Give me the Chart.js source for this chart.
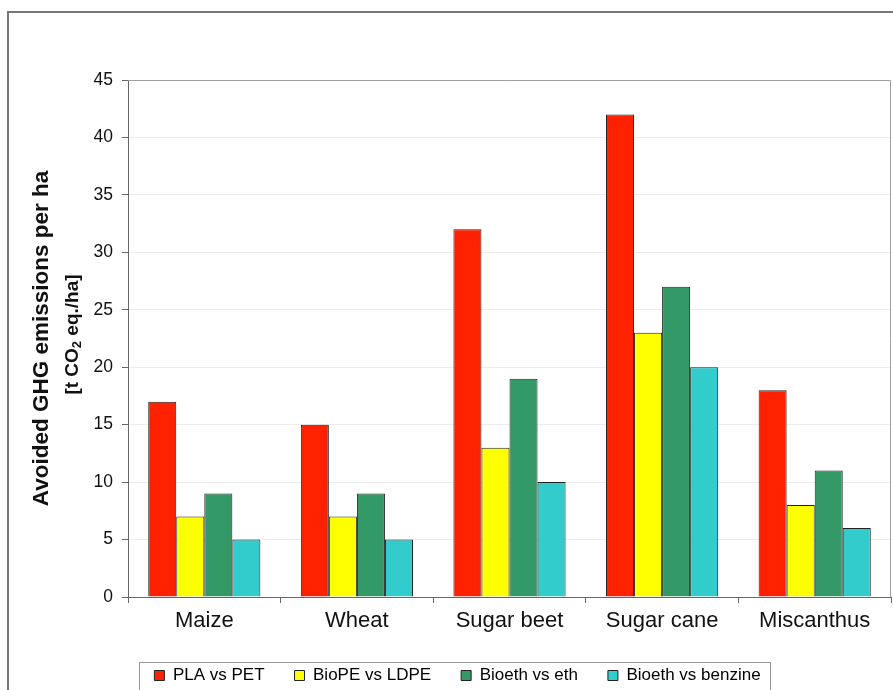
<!DOCTYPE html>
<html>
<head>
<meta charset="utf-8">
<script src="https://cdn.jsdelivr.net/npm/chart.js@4.4.1/dist/chart.umd.min.js"></script>
<style>
  html, body { margin: 0; padding: 0; background: #fff; }
  #wrap { position: relative; width: 893px; height: 690px; }
</style>
</head>
<body>
<div id="wrap"><canvas id="c" width="893" height="690"></canvas></div>
<script>
const categories = ["Maize", "Wheat", "Sugar beet", "Sugar cane", "Miscanthus"];
const seriesNames = ["PLA vs PET", "BioPE vs LDPE", "Bioeth vs eth", "Bioeth vs benzine"];
const plaVsPet = [17, 15, 32, 42, 18];
const biopeVsLdpe = [7, 7, 13, 23, 8];
const bioethVsEth = [9, 9, 19, 27, 11];
const bioethVsBenzine = [5, 5, 10, 20, 6];
const yTitle = "Avoided GHG emissions per ha";
const yUnitParts = ["[t CO", "2", " eq./ha]"];
const yMin = 0, yMax = 45, yStep = 5;

const colors = ["#ff2200", "#ffff00", "#339966", "#33cccc"];
const seriesValues = [plaVsPet, biopeVsLdpe, bioethVsEth, bioethVsBenzine];

const FONT = "'Liberation Sans', Arial, sans-serif";

const decor = {
  id: 'decor',
  beforeDraw(chart) {
    const ctx = chart.ctx;
    ctx.save();
    ctx.fillStyle = '#fff';
    ctx.fillRect(0, 0, chart.width, chart.height);
    ctx.strokeStyle = '#777';
    ctx.lineWidth = 2;
    ctx.beginPath();
    ctx.moveTo(8, 700);
    ctx.lineTo(8, 12);
    ctx.lineTo(900, 12);
    ctx.stroke();
    ctx.restore();
  },
  afterDraw(chart) {
    const ctx = chart.ctx;
    const a = chart.chartArea;
    ctx.save();
    ctx.strokeStyle = '#a0a0a0';
    ctx.lineWidth = 1;
    ctx.beginPath();
    ctx.moveTo(a.left, a.top + 0.5);
    ctx.lineTo(a.right - 0.5, a.top + 0.5);
    ctx.lineTo(a.right - 0.5, a.bottom);
    ctx.stroke();
    // second line of the y title, with subscript 2
    const big = "bold 19px " + FONT, small = "bold 13px " + FONT;
    ctx.font = big;
    const w0 = ctx.measureText(yUnitParts[0]).width;
    const w2 = ctx.measureText(yUnitParts[2]).width;
    ctx.font = small;
    const w1 = ctx.measureText(yUnitParts[1]).width;
    const total = w0 + w1 + w2;
    ctx.translate(71, (a.top + a.bottom) / 2 - 4);
    ctx.rotate(-Math.PI / 2);
    ctx.fillStyle = '#111';
    ctx.textAlign = 'left';
    ctx.textBaseline = 'alphabetic';
    let x = -total / 2;
    const base = 7;
    ctx.font = big;
    ctx.fillText(yUnitParts[0], x, base);
    x += w0;
    ctx.font = small;
    ctx.fillText(yUnitParts[1], x, base + 3);
    x += w1;
    ctx.font = big;
    ctx.fillText(yUnitParts[2], x, base);
    ctx.restore();
    const hb = chart.legend && chart.legend.legendHitBoxes;
    if (hb && hb.length) {
      const l = hb[0].left - 15;
      const last = hb[hb.length - 1];
      const r = last.left + last.width + 10;
      ctx.save();
      ctx.strokeStyle = '#999';
      ctx.lineWidth = 1;
      ctx.strokeRect(Math.round(l) + 0.5, 662.5, Math.round(r - l), 60);
      ctx.restore();
    }
  }
};

new Chart(document.getElementById('c'), {
  type: 'bar',
  data: {
    labels: categories,
    datasets: seriesNames.map((name, i) => ({
      label: name,
      data: seriesValues[i],
      backgroundColor: colors[i],
      borderColor: '#222',
      borderWidth: 1,
      borderSkipped: 'bottom',
      categoryPercentage: 0.735,
      barPercentage: 1.0
    }))
  },
  options: {
    responsive: false,
    animation: false,
    devicePixelRatio: 1,
    layout: { padding: { left: 24, right: 2, top: 80, bottom: -4 } },
    plugins: {
      tooltip: { enabled: false },
      legend: {
        position: 'bottom',
        labels: {
          boxWidth: 10,
          boxHeight: 10,
          padding: 30,
          color: '#111',
          font: { family: FONT, size: 17 },
          generateLabels(chart) {
            return chart.data.datasets.map((ds, i) => ({
              text: ds.label,
              fillStyle: ds.backgroundColor,
              strokeStyle: '#222',
              lineWidth: 1,
              hidden: false,
              datasetIndex: i
            }));
          }
        }
      }
    },
    scales: {
      x: {
        grid: {
          drawOnChartArea: false,
          drawTicks: true,
          tickLength: 6,
          tickColor: '#666',
          offset: true
        },
        border: { color: '#666', width: 1 },
        ticks: {
          color: '#111',
          padding: 5,
          font: { family: FONT, size: 22 }
        },
        afterFit(scale) { scale.height = 40; }
      },
      y: {
        min: yMin,
        max: yMax,
        ticks: {
          stepSize: yStep,
          color: '#111',
          padding: 9,
          font: { family: FONT, size: 17.5 }
        },
        grid: {
          color: '#ececec',
          tickColor: '#666',
          tickLength: 6,
          drawTicks: true
        },
        border: { color: '#666', width: 1 },
        title: {
          display: true,
          text: yTitle,
          color: '#111',
          font: { family: FONT, size: 22.5, weight: 'bold' },
          padding: { top: 4, bottom: 0 }
        },
        afterFit(scale) { scale.width = 104; }
      }
    }
  },
  plugins: [decor]
});
</script>
</body>
</html>
